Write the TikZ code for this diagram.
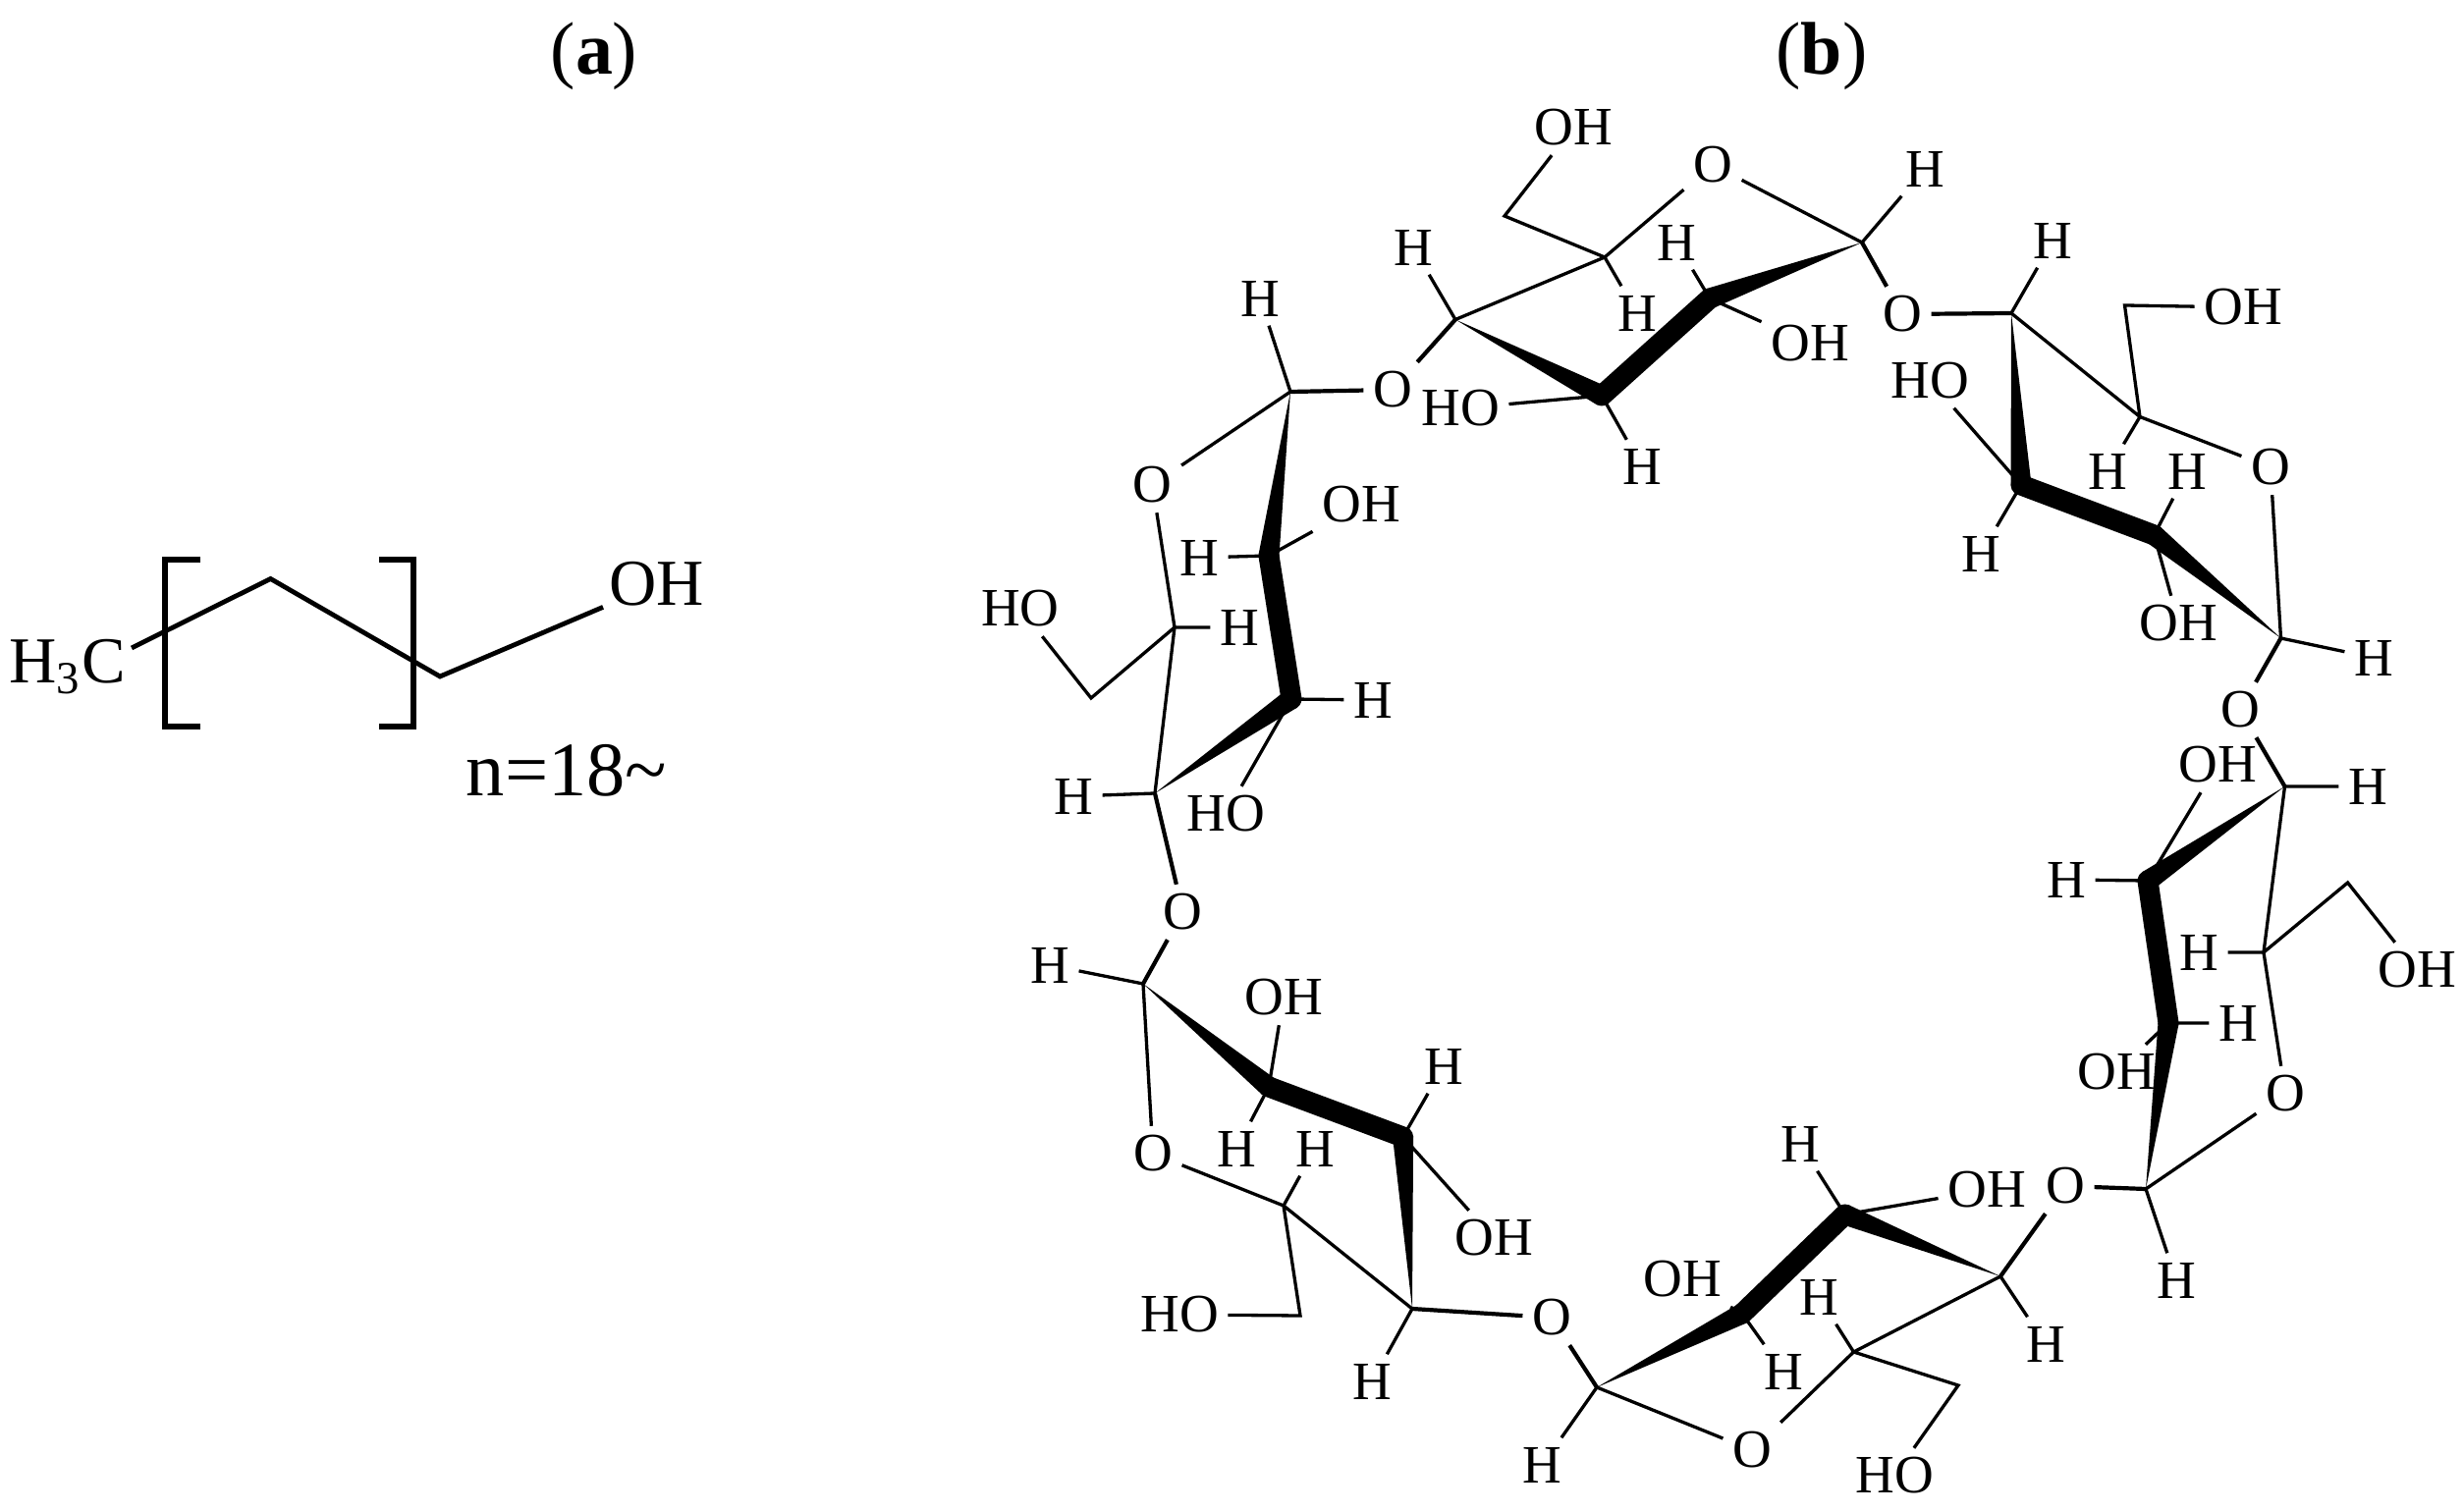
\documentclass[tikz,border=0pt]{standalone}
\usepackage{fontspec}
\setmainfont{Liberation Serif}
\usetikzlibrary{calc}
\tikzset{
	atom/.style={inner sep=0.09cm, font=\fontsize{15.65}{18}\selectfont},
	chainatom/.style={inner sep=0.06cm, font=\fontsize{19}{22}\selectfont},
	panel/.style={inner sep=0pt, anchor=base, font=\fontsize{21.6}{25}\selectfont},
	bond/.style={line width=0.033cm},
	linkbond/.style={line width=0.042cm},
	thickbond/.style={line width=0.21cm, line cap=round},
	bracket/.style={line width=0.065cm}
}
\newcommand{\wedgebond}[2]{\fill (#1) -- ($(#2)!0.105cm!90:(#1)$) -- ($(#2)!0.105cm!-90:(#1)$) -- cycle;}
\begin{document}
\begin{tikzpicture}[x=0.01cm, y=-0.01cm]
	\useasboundingbox (0,0) rectangle (2508,1540);
	% panel labels
	\node[panel] (pa) at (605,76) {(\textbf{a})};
	\node[panel] (pb) at (1855,76) {(\textbf{b})};
	% chain
	\node[chainatom, anchor=base west, inner sep=0pt] (ch3) at (9,696) {H\textsubscript{3}C};
	\node[chainatom] (choh) at (669,595) {OH};
	\node[inner sep=0pt, anchor=base, font=\fontsize{22.3}{26}\selectfont] (nlabel) at (577,811) {n=18\textasciitilde};
	\coordinate (k1) at (275.5,589.5);
	\coordinate (k2) at (448,689);
	\coordinate (k0) at (134,660);
	\draw[line width=0.048cm] (k0) -- (k1) -- (k2) -- (choh);
	\coordinate (bl1) at (204,570);
	\coordinate (bl2) at (168,570);
	\coordinate (bl3) at (168,740);
	\coordinate (bl4) at (204,740);
	\coordinate (br1) at (386,570);
	\coordinate (br2) at (421,570);
	\coordinate (br3) at (421,740);
	\coordinate (br4) at (386,740);
	\draw[bracket] (bl1) -- (bl2) -- (bl3) -- (bl4);
	\draw[bracket] (br1) -- (br2) -- (br3) -- (br4);
	% ring a
	\coordinate (ac1) at (1314,399);
	\coordinate (ac2) at (1292,566);
	\coordinate (ac3) at (1315,712);
	\coordinate (ac4) at (1176,808);
	\coordinate (ac5) at (1196,639);
	\coordinate (ach) at (1111,711);
	\node[atom] (ah1) at (1283,304) {H};
	\node[atom] (ao) at (1173.5,494) {O};
	\node[atom] (al) at (1418,397) {O};
	\node[atom] (ah2) at (1221,568) {H};
	\node[atom] (aoh2) at (1386,514) {OH};
	\node[atom] (ah3) at (1398,713) {H};
	\node[atom] (aoh3) at (1248,829) {HO};
	\node[atom] (ah4) at (1093,811) {H};
	\node[atom] (ah5) at (1262,639) {H};
	\node[atom] (aoh) at (1039,620) {HO};
	% ring b
	\coordinate (bc1) at (1896,247);
	\coordinate (bc2) at (1741,304);
	\coordinate (bc3) at (1631,403);
	\coordinate (bc4) at (1482,325.5);
	\coordinate (bc5) at (1634,262);
	\coordinate (bch) at (1532,220);
	\node[atom] (bh1) at (1960,172) {H};
	\node[atom] (bo) at (1744,168) {O};
	\node[atom] (bl) at (1937,320) {O};
	\node[atom] (bh2) at (1707,247) {H};
	\node[atom] (boh2) at (1843,350) {OH};
	\node[atom] (bh3) at (1672,475.5) {H};
	\node[atom] (boh3) at (1487,416) {HO};
	\node[atom] (bh4) at (1439,252) {H};
	\node[atom] (bh5) at (1667,319) {H};
	\node[atom] (boh) at (1602,130) {OH};
	% ring c
	\coordinate (cc1) at (2322.5,650);
	\coordinate (cc2) at (2193.5,545);
	\coordinate (cc3) at (2058,494);
	\coordinate (cc4) at (2048,319);
	\coordinate (cc5) at (2179,424.5);
	\coordinate (cch) at (2163.5,311);
	\node[atom] (ch1) at (2417,670) {H};
	\node[atom] (co) at (2312,476) {O};
	\node[atom] (cl) at (2281,723) {O};
	\node[atom] (ch2) at (2227,480) {H};
	\node[atom] (coh2) at (2218.6,635) {OH};
	\node[atom] (ch3b) at (2017,564) {H};
	\node[atom] (coh3) at (1965,387.5) {HO};
	\node[atom] (ch4) at (2090.6,245) {H};
	\node[atom] (ch5) at (2146,480) {H};
	\node[atom] (coh) at (2284,313) {OH};
	% ring d
	\coordinate (dc1) at (2326.5,801);
	\coordinate (dc2) at (2187,897);
	\coordinate (dc3) at (2208,1042);
	\coordinate (dc4) at (2185,1211);
	\coordinate (dc5) at (2305,970);
	\coordinate (dch) at (2390.6,899);
	\node[atom] (dh1) at (2411,801) {H};
	\node[atom] (do) at (2327,1114) {O};
	\node[atom] (dl) at (2103,1208) {O};
	\node[atom] (dh2) at (2104,896) {H};
	\node[atom] (doh2) at (2258,779) {OH};
	\node[atom] (dh3) at (2279,1042) {H};
	\node[atom] (doh3) at (2155,1092) {OH};
	\node[atom] (dh4) at (2216,1304) {H};
	\node[atom] (dh5) at (2239,970) {H};
	\node[atom] (doh) at (2461,988) {OH};
	% ring e
	\coordinate (ec1) at (2037,1300);
	\coordinate (ec2) at (1878.6,1237);
	\coordinate (ec3) at (1774,1338);
	\coordinate (ec4) at (1626,1413);
	\coordinate (ec5) at (1887.5,1377);
	\coordinate (ech) at (1994,1411);
	\node[atom] (eh1) at (2083,1369) {H};
	\node[atom] (eo) at (1784,1477) {O};
	\node[atom] (el) at (1580,1342) {O};
	\node[atom] (eh2) at (1833,1165) {H};
	\node[atom] (eoh2) at (2023,1212) {OH};
	\node[atom] (eh3) at (1816,1397) {H};
	\node[atom] (eoh3) at (1713,1303) {OH};
	\node[atom] (eh4) at (1570.5,1492) {H};
	\node[atom] (eh5) at (1852,1321) {H};
	\node[atom] (eoh) at (1929,1503) {HO};
	% ring f
	\coordinate (fc1) at (1438,1333);
	\coordinate (fc2) at (1428.6,1158);
	\coordinate (fc3) at (1292,1107);
	\coordinate (fc4) at (1164,1002);
	\coordinate (fc5) at (1307,1228);
	\coordinate (fch) at (1324,1340);
	\node[atom] (fh1) at (1397,1407) {H};
	\node[atom] (fo) at (1174,1175) {O};
	\node[atom] (fl) at (1204.5,929) {O};
	\node[atom] (fh2) at (1470,1086) {H};
	\node[atom] (foh2) at (1521,1261) {OH};
	\node[atom] (fh3) at (1259,1170) {H};
	\node[atom] (foh3) at (1307,1016) {OH};
	\node[atom] (fh4) at (1069,983) {H};
	\node[atom] (fh5) at (1339,1170) {H};
	\node[atom] (foh) at (1201,1339) {HO};
	% thin bonds
	\draw[bond] (ac1) -- (ah1) (ac1) -- (ao) -- (ac5) -- (ac4) (ac2) -- (ah2) (ac2) -- (aoh2) (ac3) -- (ah3) (ac3) -- (aoh3) (ac4) -- (ah4) (ac5) -- (ah5) (ac5) -- (ach) -- (aoh);
	\draw[bond] (bc1) -- (bh1) (bc1) -- (bo) -- (bc5) -- (bc4) (bc2) -- (bh2) (bc2) -- (boh2) (bc3) -- (bh3) (bc3) -- (boh3) (bc4) -- (bh4) (bc5) -- (bh5) (bc5) -- (bch) -- (boh);
	\draw[bond] (cc1) -- (ch1) (cc1) -- (co) -- (cc5) -- (cc4) (cc2) -- (ch2) (cc2) -- (coh2) (cc3) -- (ch3b) (cc3) -- (coh3) (cc4) -- (ch4) (cc5) -- (ch5) (cc5) -- (cch) -- (coh);
	\draw[bond] (dc1) -- (dh1) (dc1) -- (dc5) -- (do) -- (dc4) (dc2) -- (dh2) (dc2) -- (doh2) (dc3) -- (dh3) (dc3) -- (doh3) (dc4) -- (dh4) (dc5) -- (dh5) (dc5) -- (dch) -- (doh);
	\draw[bond] (ec1) -- (eh1) (ec1) -- (ec5) -- (eo) -- (ec4) (ec2) -- (eh2) (ec2) -- (eoh2) (ec3) -- (eh3) (ec3) -- (eoh3) (ec4) -- (eh4) (ec5) -- (eh5) (ec5) -- (ech) -- (eoh);
	\draw[bond] (fc1) -- (fh1) (fc1) -- (fc5) -- (fo) -- (fc4) (fc2) -- (fh2) (fc2) -- (foh2) (fc3) -- (fh3) (fc3) -- (foh3) (fc4) -- (fh4) (fc5) -- (fh5) (fc5) -- (fch) -- (foh);
	% glycosidic links
	\draw[linkbond] (ac1) -- (al) -- (bc4);
	\draw[linkbond] (bc1) -- (bl) -- (cc4);
	\draw[linkbond] (cc1) -- (cl) -- (dc1);
	\draw[linkbond] (dc4) -- (dl) -- (ec1);
	\draw[linkbond] (ec4) -- (el) -- (fc1);
	\draw[linkbond] (fc4) -- (fl) -- (ac4);
	% front edges
	\wedgebond{ac1}{ac2} \wedgebond{ac4}{ac3} \draw[thickbond] (ac2) -- (ac3);
	\wedgebond{bc1}{bc2} \wedgebond{bc4}{bc3} \draw[thickbond] (bc2) -- (bc3);
	\wedgebond{cc1}{cc2} \wedgebond{cc4}{cc3} \draw[thickbond] (cc2) -- (cc3);
	\wedgebond{dc1}{dc2} \wedgebond{dc4}{dc3} \draw[thickbond] (dc2) -- (dc3);
	\wedgebond{ec1}{ec2} \wedgebond{ec4}{ec3} \draw[thickbond] (ec2) -- (ec3);
	\wedgebond{fc1}{fc2} \wedgebond{fc4}{fc3} \draw[thickbond] (fc2) -- (fc3);
\end{tikzpicture}
\end{document}
